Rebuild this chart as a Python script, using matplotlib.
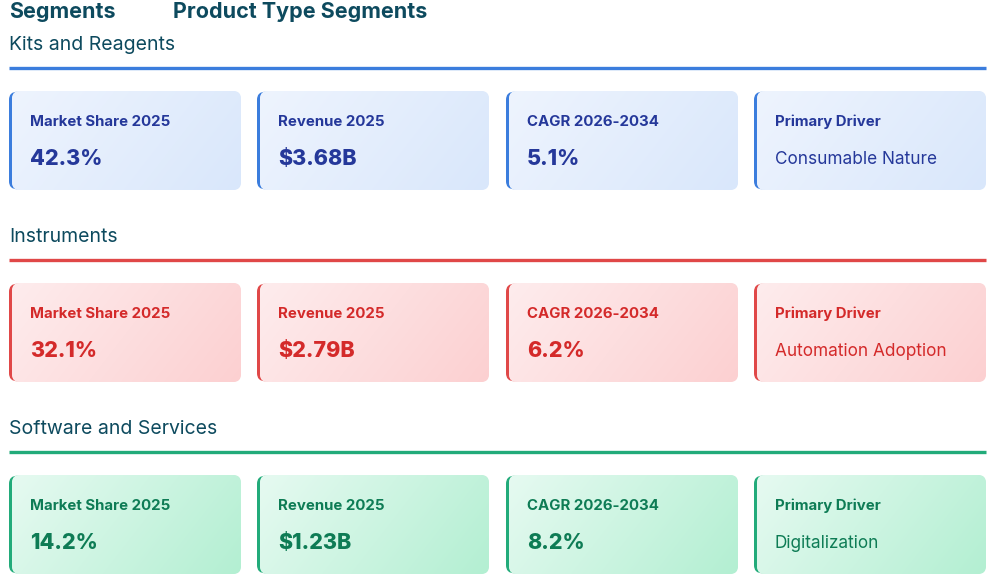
import numpy as np
import matplotlib
matplotlib.use("Agg")
import matplotlib.pyplot as plt
from matplotlib.patches import FancyBboxPatch
import matplotlib.colors as mcolors

plt.rcParams['font.family'] = ['Inter', 'DejaVu Sans']

# data
segments = ["Kits and Reagents", "Instruments", "Software and Services"]
market_share = ["42.3%", "32.1%", "14.2%"]
revenue = ["$3.68B", "$2.79B", "$1.23B"]
cagr = ["5.1%", "6.2%", "8.2%"]
drivers = ["Consumable Nature", "Automation Adoption", "Digitalization"]
card_labels = ["Market Share 2025", "Revenue 2025", "CAGR 2026-2034", "Primary Driver"]

# styles per segment: accent, text, gradient start, gradient end
accent = ["#3b7ddd", "#e04848", "#22ab7a"]
txt_col = ["#25389a", "#d42a2a", "#0e7c55"]
grad_a = ["#eef4fe", "#feeced", "#e6faf1"]
grad_b = ["#d9e7fb", "#fcd0d1", "#b3efd2"]
title_col = "#0d4a5e"

W, H = 993, 588
fig = plt.figure(figsize=(W / 100, H / 100), dpi=100)
ax = fig.add_axes([0, 0, 1, 1])
ax.set_xlim(0, W)
ax.set_ylim(H, 0)
ax.axis("off")

ax.text(9, 12, "Segments", fontsize=15.5, fontweight="bold", color=title_col, va="center")
ax.text(173, 12, "Product Type Segments", fontsize=15.5, fontweight="bold", color=title_col, va="center")

col_x = [9, 257, 506, 754]
card_w = 232
card_h = 99
row_top = [0, 192, 384]

for i, seg in enumerate(segments):
    y0 = row_top[i]
    ax.text(9, y0 + 45, seg, fontsize=14, color=title_col, va="center")
    ax.plot([9, 986], [y0 + 68, y0 + 68], color=accent[i], lw=2.4, solid_capstyle="butt")
    values = [market_share[i], revenue[i], cagr[i], drivers[i]]
    cy = y0 + 91
    ca = np.array(mcolors.to_rgb(grad_a[i]))
    cb = np.array(mcolors.to_rgb(grad_b[i]))
    for j, cx in enumerate(col_x):
        border = FancyBboxPatch((cx, cy + 0.8), 20, card_h - 1.6,
                                boxstyle="round,pad=0,rounding_size=8",
                                fc=accent[i], ec="none", zorder=1)
        ax.add_patch(border)
        inner = FancyBboxPatch((cx + 3, cy), card_w - 3, card_h,
                               boxstyle="round,pad=0,rounding_size=8",
                               fc=(ca + cb) / 2, ec="none", zorder=2)
        ax.add_patch(inner)
        u = np.linspace(0, 1, 120)
        v = np.linspace(0, 1, 60)
        U, V = np.meshgrid(u, v)
        t = np.clip(0.75 * U + 0.25 * V, 0, 1)
        img = ca[None, None, :] * (1 - t[..., None]) + cb[None, None, :] * t[..., None]
        im = ax.imshow(img, extent=(cx + 3, cx + card_w, cy + card_h, cy),
                       aspect="auto", zorder=2.1, interpolation="bilinear")
        im.set_clip_path(inner)
        ax.text(cx + 21, cy + 31, card_labels[j], fontsize=10.8, fontweight="bold",
                color=txt_col[i], va="center", zorder=3)
        if j < 3:
            ax.text(cx + 21, cy + 68, values[j], fontsize=15.5, fontweight="heavy",
                    color=txt_col[i], va="center", zorder=3)
        else:
            ax.text(cx + 21, cy + 69, values[j], fontsize=12.4,
                    color=txt_col[i], va="center", zorder=3)

ax.set_xlim(0, W)
ax.set_ylim(H, 0)
fig.savefig("out.png", dpi=100)
